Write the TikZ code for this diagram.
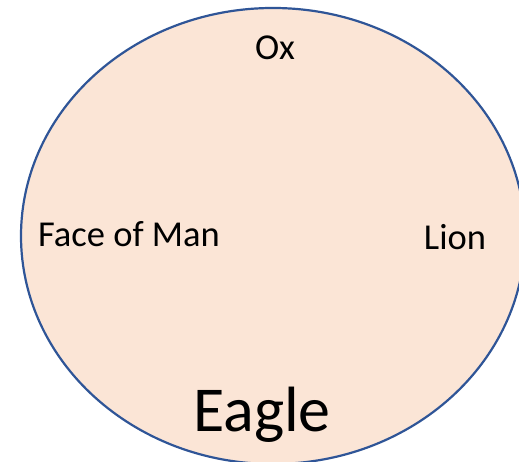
\documentclass[tikz,border=0pt]{standalone}
\usepackage{fontspec}
\setmainfont{Carlito}
\usepackage{xcolor}
\usepackage{tikz}
\usetikzlibrary{shapes.geometric}
\definecolor{peach}{HTML}{FBE5D6}
\definecolor{rim}{HTML}{2F5597}
\tikzset{
  creature/.style={draw=rim, ellipse, fill=peach, line width=2.2pt, inner sep=0pt},
  face/.style={anchor=base, inner sep=0pt, text=black, font=\fontsize{36.5}{40}\selectfont},
  bigface/.style={face, font=\fontsize{64}{70}\selectfont}
}

\begin{document}
\begin{tikzpicture}[x=1pt, y=1pt]
        \useasboundingbox (0,0) rectangle (519,462);

        % Outer ellipse
        \node[creature, minimum width=504pt, minimum height=456pt] (vision) at (273,226) {};

        % Faces
        \node[face]    (ox)    at (275,402) {Ox};
        \node[face]    (man)   at (129,215) {Face of Man};
        \node[face]    (lion)  at (455,212) {Lion};
        \node[bigface] (eagle) at (262,30)  {Eagle};
    \end{tikzpicture}
\end{document}
